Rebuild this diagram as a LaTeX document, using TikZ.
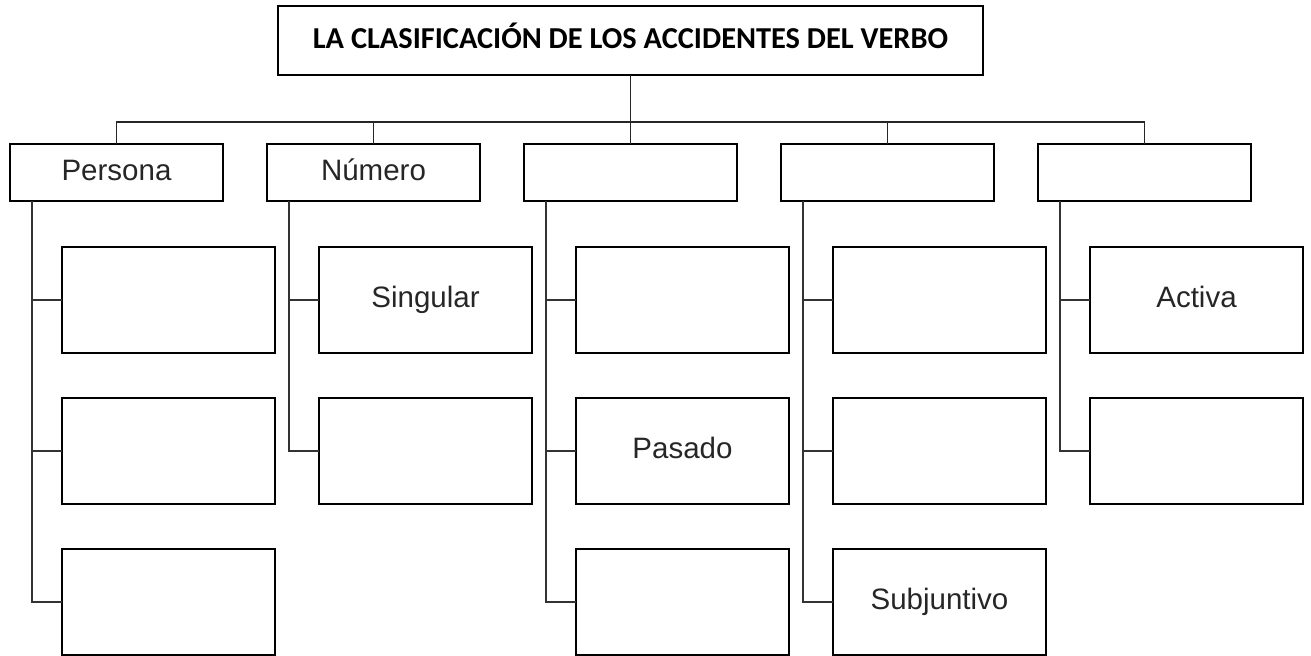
\documentclass[tikz,border=0pt]{standalone}
\usepackage{fontspec}
\setmainfont{Liberation Sans}
\newfontfamily\titlefont{Carlito}
\usepackage{tikz}
\usetikzlibrary{positioning}
\definecolor{tinta}{HTML}{262626}
\tikzstyle{titlebox} = [rectangle, minimum width=352.5pt, minimum height=34.5pt, inner sep=0pt, outer sep=0pt, text centered, text height=9.8pt, text depth=1.5pt, draw=black, line width=1.3pt, font=\titlefont\bfseries\fontsize{15.2pt}{17pt}\selectfont, text=black]
\tikzstyle{topbox} = [rectangle, minimum width=106.5pt, minimum height=28.5pt, inner sep=0pt, outer sep=0pt, text centered, text height=10.5pt, text depth=3pt, draw=black, line width=1.2pt, font=\fontsize{14.75pt}{17pt}\selectfont, text=tinta]
\tikzstyle{subbox} = [rectangle, minimum width=106.5pt, minimum height=53pt, inner sep=0pt, outer sep=0pt, text centered, text height=10.5pt, text depth=3pt, draw=black, line width=1.2pt, font=\fontsize{14.75pt}{17pt}\selectfont, text=tinta]
\tikzstyle{line} = [line width=0.8pt, black!85]
\tikzstyle{branch} = [line width=0.65pt, black!80]

\begin{document}
\begin{tikzpicture}[node distance=22pt]
        \useasboundingbox (0,0) rectangle (655.5pt,-327.5pt);
        \node (clasif) [titlebox] at (315.25pt,-20.25pt) {LA CLASIFICACIÓN DE LOS ACCIDENTES DEL VERBO};
        \node (tie) [topbox, below = 34.5pt of clasif] {};
        \node (num) [topbox, left = of tie] {Número};
        \node (per) [topbox, left = of num] {Persona};
        \node (modo) [topbox, right = of tie] {};
        \node (voz) [topbox, right = of modo] {};

        % sub-boxes, column by column
        \node (per1) [subbox, below = 23pt of per.south west, anchor=north west, xshift=26pt] {};
        \node (per2) [subbox, below = 22.5pt of per1] {};
        \node (per3) [subbox, below = 22.5pt of per2] {};
        \node (num1) [subbox, below = 23pt of num.south west, anchor=north west, xshift=26pt] {Singular};
        \node (num2) [subbox, below = 22.5pt of num1] {};
        \node (tie1) [subbox, below = 23pt of tie.south west, anchor=north west, xshift=26pt] {};
        \node (tie2) [subbox, below = 22.5pt of tie1] {Pasado};
        \node (tie3) [subbox, below = 22.5pt of tie2] {};
        \node (modo1) [subbox, below = 23pt of modo.south west, anchor=north west, xshift=26pt] {};
        \node (modo2) [subbox, below = 22.5pt of modo1] {};
        \node (modo3) [subbox, below = 22.5pt of modo2] {Subjuntivo};
        \node (voz1) [subbox, below = 23pt of voz.south west, anchor=north west, xshift=26pt] {Activa};
        \node (voz2) [subbox, below = 22.5pt of voz1] {};

        \coordinate (bus) at ([yshift=11pt]tie.north);
        \draw [line] (clasif) -- (bus);
        \draw [line] (per.north) |- (bus) -| (voz.north);
        \foreach \n in {num,tie,modo}
            \draw [line] (\n.north) -- (\n.north |- bus);

        % spines under each heading
        \foreach \n/\last in {per/per3,num/num2,tie/tie3,modo/modo3,voz/voz2} {
            \coordinate (\n s) at ([xshift=11pt]\n.south west);
            \draw [branch] (\n s) |- (\last.west);
        }
        \foreach \b/\n in {per1/per,per2/per,num1/num,tie1/tie,tie2/tie,modo1/modo,modo2/modo,voz1/voz}
            \draw [branch] (\b.west) -- (\b.west -| \n s);
    \end{tikzpicture}
\end{document}
